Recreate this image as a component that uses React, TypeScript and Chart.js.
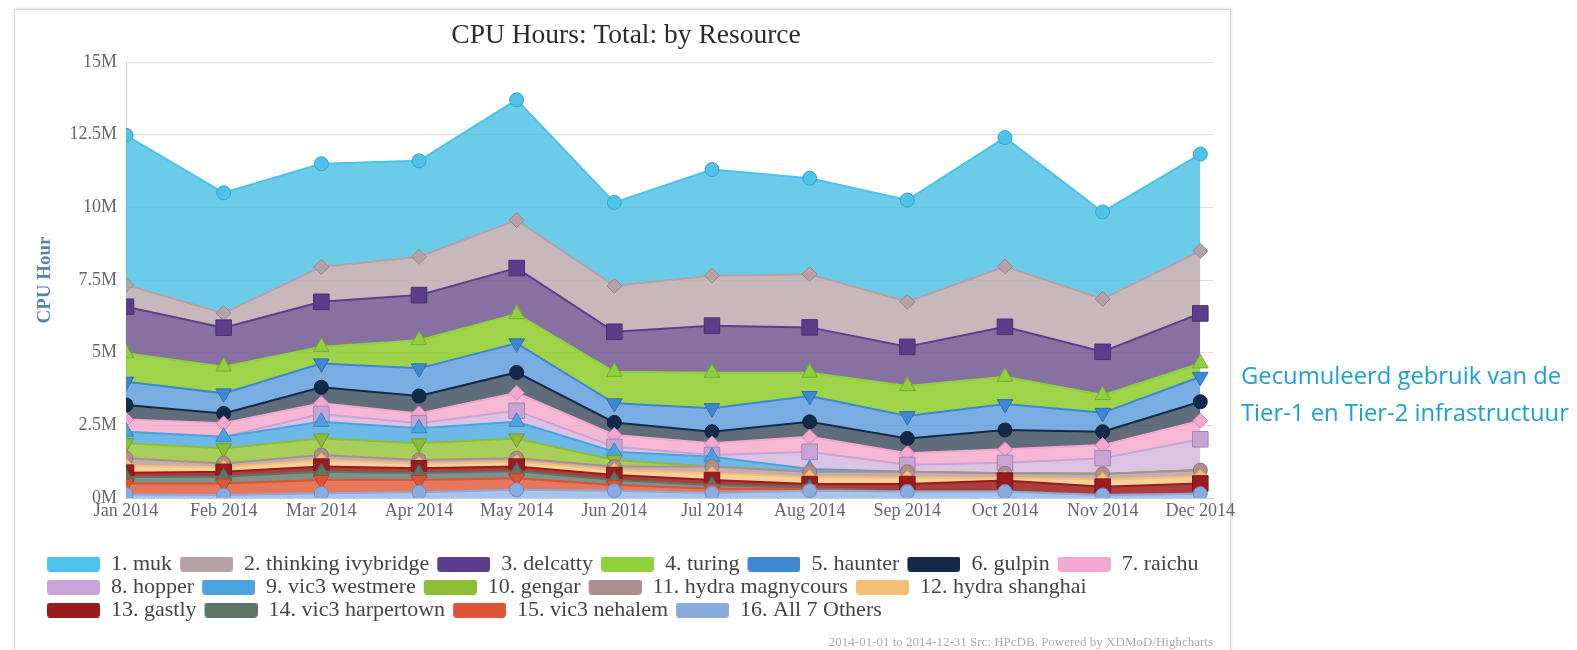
import React, { useEffect, useRef } from "react";
import { Chart, registerables } from "chart.js";

Chart.register(...registerables);

// ---------- data (values in millions of CPU hours) ----------
const MONTHS = [
  "Jan 2014", "Feb 2014", "Mar 2014", "Apr 2014", "May 2014", "Jun 2014",
  "Jul 2014", "Aug 2014", "Sep 2014", "Oct 2014", "Nov 2014", "Dec 2014",
];

const SERIES_NAMES = [
  "1. muk", "2. thinking ivybridge", "3. delcatty", "4. turing", "5. haunter",
  "6. gulpin", "7. raichu", "8. hopper", "9. vic3 westmere", "10. gengar",
  "11. hydra magnycours", "12. hydra shanghai", "13. gastly",
  "14. vic3 harpertown", "15. vic3 nehalem", "16. All 7 Others",
];

const MUK = [5.15, 4.14, 3.55, 3.3, 4.14, 2.87, 3.65, 3.3, 3.5, 4.44, 2.99, 3.33];
const THINKING_IVYBRIDGE = [0.75, 0.5, 1.2, 1.32, 1.65, 1.58, 1.72, 1.83, 1.55, 2.07, 1.82, 2.15];
const DELCATTY = [1.6, 1.34, 1.55, 1.55, 1.58, 1.38, 1.62, 1.56, 1.35, 1.72, 1.49, 1.72];
const TURING = [0.98, 0.92, 0.57, 0.97, 1.01, 1.08, 1.22, 0.8, 1.03, 0.94, 0.61, 0.46];
const HAUNTER = [0.8, 0.69, 0.82, 0.95, 1.0, 0.66, 0.81, 0.89, 0.77, 0.89, 0.65, 0.86];
const GULPIN = [0.5, 0.34, 0.55, 0.6, 0.7, 0.43, 0.4, 0.51, 0.51, 0.66, 0.46, 0.65];
const RAICHU = [0.42, 0.46, 0.37, 0.34, 0.62, 0.41, 0.4, 0.52, 0.4, 0.47, 0.45, 0.64];
const HOPPER = [0, 0, 0.27, 0.17, 0.38, 0.17, 0.06, 0.59, 0.24, 0.36, 0.54, 1.06];
const VIC3_WESTMERE = [0.4, 0.4, 0.57, 0.52, 0.57, 0.28, 0.34, 0.1, 0, 0, 0, 0];
const GENGAR = [0.51, 0.52, 0.57, 0.57, 0.68, 0.23, 0, 0, 0, 0, 0, 0];
const HYDRA_MAGNYCOURS = [0.25, 0.13, 0.18, 0.13, 0.12, 0.12, 0.23, 0.18, 0.2, 0.15, 0.19, 0.22];
const HYDRA_SHANGHAI = [0.25, 0.16, 0.22, 0.16, 0.17, 0.17, 0.23, 0.24, 0.22, 0.1, 0.25, 0.24];
const GASTLY = [0.15, 0.16, 0.18, 0.16, 0.16, 0.17, 0.17, 0.13, 0.26, 0.38, 0.29, 0.35];
const VIC3_HARPERTOWN = [0.22, 0.24, 0.28, 0.24, 0.24, 0.17, 0.13, 0.05, 0, 0, 0, 0];
const VIC3_NEHALEM = [0.38, 0.4, 0.46, 0.42, 0.4, 0.2, 0.15, 0.05, 0, 0, 0, 0];
const ALL_7_OTHERS = [0.12, 0.1, 0.16, 0.2, 0.28, 0.25, 0.17, 0.25, 0.22, 0.22, 0.1, 0.15];

const SERIES_VALUES = [
  MUK, THINKING_IVYBRIDGE, DELCATTY, TURING, HAUNTER, GULPIN, RAICHU, HOPPER,
  VIC3_WESTMERE, GENGAR, HYDRA_MAGNYCOURS, HYDRA_SHANGHAI, GASTLY,
  VIC3_HARPERTOWN, VIC3_NEHALEM, ALL_7_OTHERS,
];

const Y_MAX = 15;
const Y_STEP = 2.5;

// ---------- styles ----------
const LINE_COLORS = [
  "#4cc3ea", "#b5a1a6", "#5c3d8c", "#8fd13a", "#3d87d3", "#13294a", "#f5a8cf", "#c9a3d6",
  "#4aa3df", "#8cbd34", "#ad8f90", "#f4bf75", "#991b1e", "#5b7567", "#dc5435", "#88abe0",
];
const FILL_COLORS = [
  "rgba(82,194,229,0.85)", "rgba(189,171,175,0.85)", "rgba(113,88,143,0.85)", "rgba(141,203,42,0.85)",
  "rgba(99,160,222,0.85)", "rgba(67,83,99,0.85)", "rgba(246,172,207,0.85)", "rgba(214,184,222,0.85)",
  "rgba(82,173,228,0.85)", "rgba(153,199,61,0.85)", "rgba(186,160,160,0.85)", "rgba(248,200,136,0.85)",
  "rgba(160,34,34,0.88)", "rgba(104,126,117,0.85)", "rgba(226,95,61,0.85)", "rgba(153,186,232,0.85)",
];
const SYMBOLS = ["circle", "rectRot", "rect", "triangle", "triangleDown"];
const SYMBOL_RADIUS: Record<string, number> = { circle: 7, rectRot: 7.5, rect: 11, triangle: 9, triangleDown: 9 };

const SERIF = "'Liberation Serif', 'Times New Roman', serif";
const SWATCH_LEAD = 7;
const SWATCH_W = 53;
const SWATCH_H = 15;

function darken(hex: string, f: number) {
  const n = parseInt(hex.slice(1), 16);
  const r = Math.round(((n >> 16) & 255) * f);
  const g = Math.round(((n >> 8) & 255) * f);
  const b = Math.round((n & 255) * f);
  return `rgb(${r},${g},${b})`;
}

function buildDatasets() {
  const out: any[] = [];
  const n = SERIES_NAMES.length;
  // bottom of the stack first (16 ... 1)
  for (let i = n - 1; i >= 0; i--) {
    const k = n - 1 - i;
    const sym = SYMBOLS[i % SYMBOLS.length];
    const r = SYMBOL_RADIUS[sym];
    out.push({
      label: SERIES_NAMES[i],
      data: SERIES_VALUES[i].map((v, x) => ({ x, y: v })),
      borderColor: LINE_COLORS[i],
      backgroundColor: FILL_COLORS[i],
      borderWidth: 2,
      fill: k === 0 ? "origin" : "-1",
      tension: 0,
      pointStyle: sym === "triangleDown" ? "triangle" : sym,
      rotation: sym === "triangleDown" ? 180 : 0,
      pointRadius: (ctx: any) => (ctx.raw && ctx.raw.y === 0 ? 0 : r),
      pointBackgroundColor: LINE_COLORS[i],
      pointBorderColor: darken(LINE_COLORS[i], 0.82),
      pointBorderWidth: 1,
    });
  }
  return out;
}

function makeSwatch(color: string) {
  const cv = document.createElement("canvas");
  cv.width = SWATCH_LEAD + SWATCH_W;
  cv.height = SWATCH_H;
  const g = cv.getContext("2d")!;
  g.fillStyle = color;
  g.beginPath();
  if ((g as any).roundRect) (g as any).roundRect(SWATCH_LEAD, 0, SWATCH_W, SWATCH_H, 3);
  else g.rect(SWATCH_LEAD, 0, SWATCH_W, SWATCH_H);
  g.fill();
  return cv;
}

export default function App() {
  const ref = useRef<HTMLCanvasElement>(null);

  useEffect(() => {
    if (!ref.current) return;
    const n = SERIES_NAMES.length;
    const swatches = LINE_COLORS.map(makeSwatch);
    const chart = new Chart(ref.current, {
      type: "line",
      data: { datasets: buildDatasets() },
      options: {
        responsive: false,
        animation: false,
        events: [],
        layout: { padding: { left: 25, right: 47, top: 0, bottom: 0 } },
        scales: {
          x: {
            type: "linear",
            min: 0,
            max: MONTHS.length - 1 + 0.13,
            afterBuildTicks: (scale: any) => {
              scale.ticks = scale.ticks.filter((t: any) => Number.isInteger(t.value));
            },
            afterFit: (scale: any) => {
              scale.height = 54;
            },
            ticks: {
              stepSize: 1,
              includeBounds: false,
              autoSkip: false,
              maxRotation: 0,
              minRotation: 0,
              padding: 2,
              color: "#666",
              font: { family: SERIF, size: 18 },
              callback: (v: any) => MONTHS[v] ?? "",
            },
            grid: { display: false, drawTicks: false },
            border: { display: true, color: "#c0d0e0" },
          },
          y: {
            stacked: true,
            min: 0,
            max: Y_MAX,
            afterFit: (scale: any) => {
              scale.width = 87;
            },
            ticks: {
              stepSize: Y_STEP,
              padding: 9,
              color: "#666",
              font: { family: SERIF, size: 18 },
              callback: (v: any) => `${v}M`,
            },
            grid: { color: "#dcdcdc", lineWidth: 1, drawTicks: false },
            border: { display: true, color: "#c0d0e0" },
            title: {
              display: true,
              text: "CPU Hour",
              color: "#5a7fb0",
              font: { family: SERIF, size: 19, weight: "bold" },
              padding: { top: -5, bottom: 0 },
            },
          },
        },
        plugins: {
          tooltip: { enabled: false },
          title: {
            display: true,
            text: "CPU Hours: Total: by Resource",
            color: "#2b2b2b",
            font: { family: SERIF, size: 27.5, weight: "normal" },
            padding: { top: 10.5, bottom: 9.5 },
          },
          subtitle: {
            display: true,
            position: "bottom",
            align: "end",
            text: "2014-01-01 to 2014-12-31 Src: HPcDB. Powered by XDMoD/Highcharts",
            color: "#aaa",
            font: { family: SERIF, size: 13 },
            padding: { top: 3.4, bottom: 0 },
          },
          legend: {
            position: "bottom",
            align: "start",
            reverse: true,
            labels: {
              usePointStyle: true,
              pointStyleWidth: SWATCH_LEAD + SWATCH_W,
              boxHeight: SWATCH_H,
              padding: 1,
              color: "#444",
              font: { family: SERIF, size: 22 },
              generateLabels: (c: any) => {
                const items = (Chart.defaults.plugins.legend.labels as any).generateLabels(c);
                return items.map((it: any) => {
                  const idx = n - 1 - it.datasetIndex;
                  return {
                    ...it,
                    pointStyle: swatches[idx],
                    rotation: 0,
                    fillStyle: LINE_COLORS[idx],
                    strokeStyle: LINE_COLORS[idx],
                    lineWidth: 0,
                  };
                });
              },
            },
          },
        },
      } as any,
    });
    return () => chart.destroy();
  }, []);

  return (
    <div style={{ position: "absolute", left: 0, top: 0, width: 1577, height: 650, overflow: "hidden", background: "#fff" }}>
      <div
        style={{
          position: "absolute",
          left: 14,
          top: 9,
          width: 1217,
          height: 680,
          border: "1px solid #d4d4d4",
          boxShadow: "0 0 3px rgba(0,0,0,0.15)",
          boxSizing: "border-box",
        }}
      />
      <canvas
        ref={ref}
        width={1246}
        height={641}
        style={{ position: "absolute", left: 14, top: 9, width: 1246, height: 641, display: "block" }}
      />
      <div
        style={{
          position: "absolute",
          left: 1241,
          top: 357,
          fontFamily: "'Open Sans', sans-serif",
          fontSize: 23.8,
          lineHeight: "37px",
          color: "#1a9fd6",
          whiteSpace: "nowrap",
        }}
      >
        Gecumuleerd gebruik van de
        <br />
        Tier-1 en Tier-2 infrastructuur
      </div>
    </div>
  );
}
